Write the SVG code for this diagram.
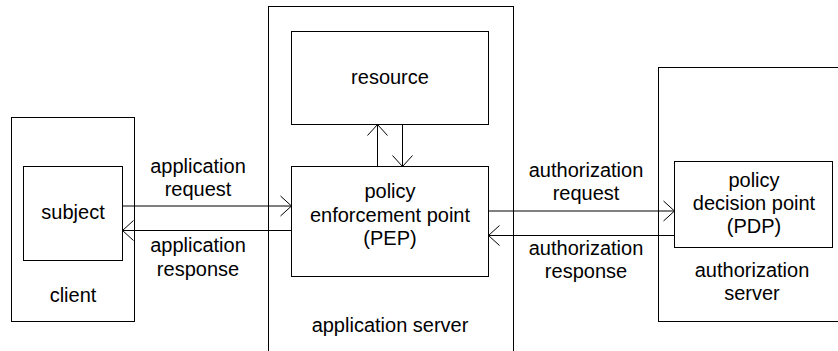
<svg xmlns="http://www.w3.org/2000/svg" width="838" height="351" viewBox="0 0 838 351">
  <style>
    .box { fill: #ffffff; stroke: #000000; stroke-width: 1; }
    .link { fill: none; stroke: #000000; stroke-width: 1; }
    .label { font-family: "Liberation Sans", Arial, sans-serif; font-size: 20px; fill: #000000; text-anchor: middle; }
  </style>
  <defs>
    <marker id="open-arrow" viewBox="0 0 12 22" refX="11.5" refY="11" markerWidth="12" markerHeight="22" markerUnits="userSpaceOnUse" orient="auto">
      <path d="M0.5,1 L11.5,11 L0.5,21" fill="none" stroke="#000000" stroke-width="1"/>
    </marker>
  </defs>

  <rect width="838" height="351" fill="#ffffff"/>

  <!-- client container -->
  <g id="client">
    <rect class="box" x="11.5" y="117.5" width="123" height="204"/>
    <text class="label" x="73" y="302">client</text>
  </g>

  <g id="subject">
    <rect class="box" x="23.5" y="166.5" width="99" height="94"/>
    <text class="label" x="73" y="219">subject</text>
  </g>

  <!-- application server container (runs past the bottom edge) -->
  <g id="application-server">
    <rect class="box" x="268.5" y="6.5" width="245" height="360"/>
    <text class="label" x="390" y="332">application server</text>
  </g>

  <g id="resource">
    <rect class="box" x="291.5" y="31.5" width="197" height="93"/>
    <text class="label" x="390" y="84">resource</text>
  </g>

  <g id="pep">
    <rect class="box" x="291.5" y="166.5" width="197" height="110"/>
    <text class="label" x="390" y="198">policy</text>
    <text class="label" x="390" y="222">enforcement point</text>
    <text class="label" x="390" y="245">(PEP)</text>
  </g>

  <!-- authorization server container (runs past the right edge) -->
  <g id="authorization-server">
    <rect class="box" x="658.5" y="67.5" width="200" height="254"/>
    <text class="label" x="752" y="277">authorization</text>
    <text class="label" x="752" y="300">server</text>
  </g>

  <g id="pdp">
    <rect class="box" x="674.5" y="161.5" width="158" height="86"/>
    <text class="label" x="754" y="187">policy</text>
    <text class="label" x="754" y="210">decision point</text>
    <text class="label" x="754" y="233">(PDP)</text>
  </g>

  <!-- connectors -->
  <g id="connectors">
    <line class="link" x1="122.5" y1="206" x2="291.5" y2="206" marker-end="url(#open-arrow)"/>
    <line class="link" x1="291.5" y1="230.5" x2="122.5" y2="230.5" marker-end="url(#open-arrow)"/>
    <line class="link" x1="377.5" y1="166.5" x2="377.5" y2="124.5" marker-end="url(#open-arrow)"/>
    <line class="link" x1="402.5" y1="124.5" x2="402.5" y2="166.5" marker-end="url(#open-arrow)"/>
    <line class="link" x1="488.5" y1="211" x2="674.5" y2="211" marker-end="url(#open-arrow)"/>
    <line class="link" x1="674.5" y1="235.5" x2="488.5" y2="235.5" marker-end="url(#open-arrow)"/>

    <text class="label" x="198" y="173">application</text>
    <text class="label" x="198" y="196">request</text>
    <text class="label" x="198" y="252">application</text>
    <text class="label" x="198" y="276">response</text>

    <text class="label" x="586" y="177">authorization</text>
    <text class="label" x="586" y="200">request</text>
    <text class="label" x="586" y="255">authorization</text>
    <text class="label" x="586" y="278">response</text>
  </g>
</svg>
